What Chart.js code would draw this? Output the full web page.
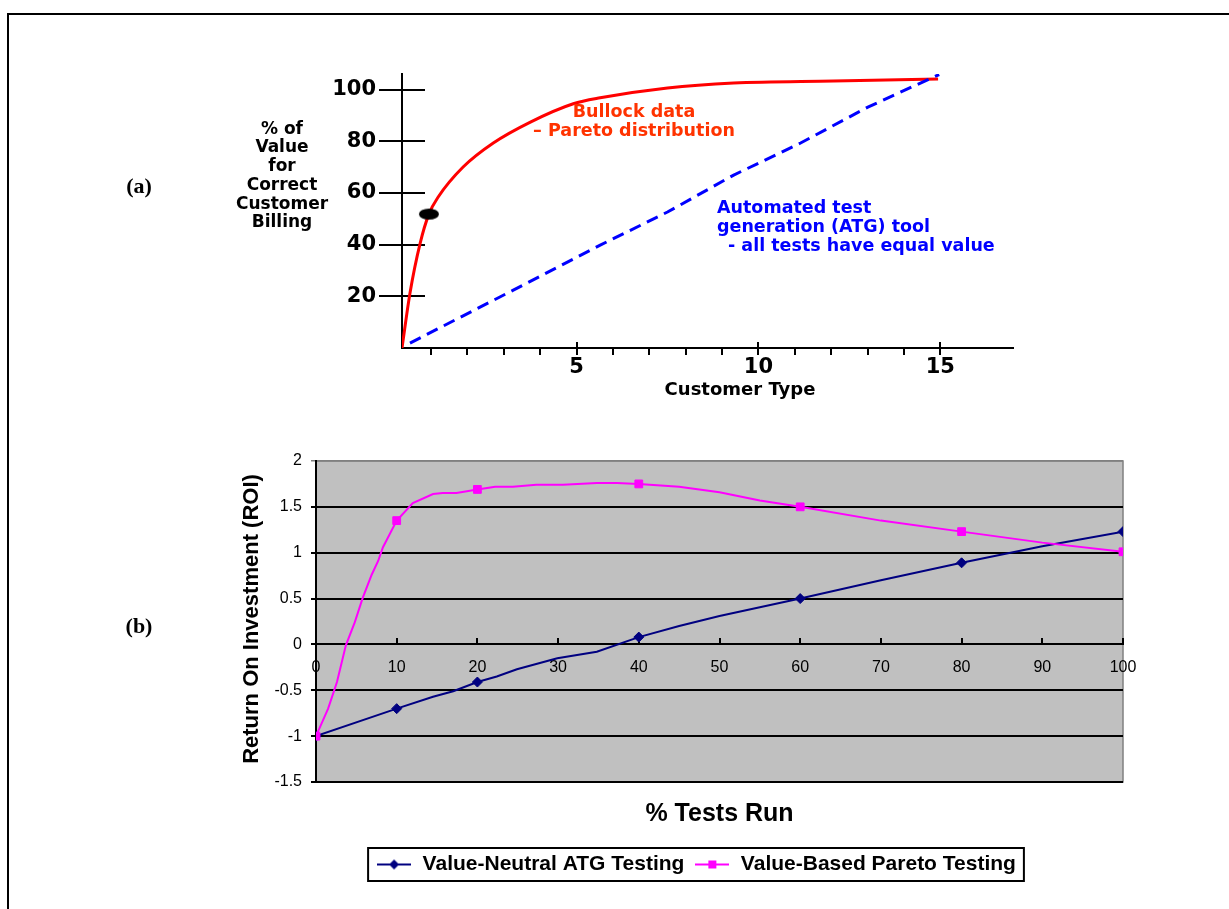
<!DOCTYPE html>
<html>
<head>
<meta charset="utf-8">
<script src="https://cdn.jsdelivr.net/npm/chart.js@4"></script>
<style>
  html, body { margin: 0; padding: 0; background: #fff; }
  #page { position: relative; width: 1229px; height: 909px; overflow: hidden; }
  #frame { position: absolute; left: 7px; top: 13px; right: -5px; bottom: -5px;
           border-top: 2px solid #000; border-left: 2px solid #000; }
  canvas { position: absolute; left: 0; top: 0; }
</style>
</head>
<body>
<div id="page">
  <div id="frame"></div>
  <canvas id="valueChart" width="1229" height="909"></canvas>
  <canvas id="roiChart" width="1229" height="909"></canvas>
</div>
<script>
// (a) % of value vs customer type
const typeTicks = [1, 2, 3, 4, 5, 6, 7, 8, 9, 10, 11, 12, 13, 14, 15];
const typeLabels = [5, 10, 15];
const valueTicks = [20, 40, 60, 80, 100];

const bullockX = [0.2, 0.42, 0.7, 0.94, 1.2, 1.88, 2.71, 3.73, 4.91, 5.65, 7.5, 9.32, 12.07, 14.94];
const bullockY = [0, 21.3, 40.6, 51.8, 58.5, 70, 79.3, 87.4, 94.5, 96.8, 100.6, 102.5, 103.3, 104.1];

const atgToolX = [0.42, 3.26, 5.65, 7.5, 9.32, 11.16, 13.01, 14.97];
const atgToolY = [1.9, 22.4, 39.8, 52.6, 66.9, 79.3, 93.2, 105.8];

const markX = [0.94];
const markY = [51.8];

// (b) ROI vs % tests run
const testsTicks = [0, 10, 20, 30, 40, 50, 60, 70, 80, 90, 100];

const atgPct = [0, 10, 14.5, 17, 20, 22.4, 24.9, 29.9, 34.8, 40, 45, 50, 60, 70, 80, 90, 100];
const atgRoi = [-1, -0.7, -0.57, -0.51, -0.41, -0.35, -0.27, -0.15, -0.08, 0.08, 0.2, 0.31, 0.5, 0.7, 0.89, 1.07, 1.23];
const atgMarks = [0, 10, 20, 40, 60, 80, 100];

const paretoPct = [0, 1.5, 2.6, 3.7, 4.8, 5.8, 6.9, 7.7, 8.3, 10, 12, 14.5, 15.7, 17.4, 20, 22.2, 24.4, 27.3, 30.6, 34.8, 37.3, 40, 45, 50, 55, 60, 70, 80, 90, 100];
const paretoRoi = [-1, -0.7, -0.41, -0.01, 0.24, 0.51, 0.76, 0.91, 1.06, 1.35, 1.54, 1.64, 1.65, 1.65, 1.69, 1.72, 1.72, 1.74, 1.74, 1.76, 1.76, 1.75, 1.72, 1.66, 1.57, 1.5, 1.35, 1.23, 1.11, 1.01];
const paretoMarks = [0, 10, 20, 40, 60, 80, 100];

const pts = (xs, ys) => xs.map((x, i) => ({ x: x, y: ys[i] }));

const heavy = 'DejaVu Sans';
const arial = 'Liberation Sans';

// black oval used as the marker on the Pareto curve
const oval = document.createElement('canvas');
oval.width = 22; oval.height = 13;
(function () {
  const c = oval.getContext('2d');
  c.fillStyle = '#000';
  c.beginPath();
  c.ellipse(11, 6.5, 10, 5.5, 0, 0, Math.PI * 2);
  c.fill();
})();

const notesA = [
  { t: '(a)', x: 139, y: 187, font: 'bold 22px "Liberation Serif"', c: '#000', a: 'center' },
  { t: '(b)', x: 139, y: 627, font: 'bold 22px "Liberation Serif"', c: '#000', a: 'center' },
  { t: '% of', x: 282, y: 130, font: 'bold 17px ' + heavy, c: '#000', a: 'center' },
  { t: 'Value', x: 282, y: 148, font: 'bold 17px ' + heavy, c: '#000', a: 'center' },
  { t: 'for', x: 282, y: 167, font: 'bold 17px ' + heavy, c: '#000', a: 'center' },
  { t: 'Correct', x: 282, y: 186, font: 'bold 17px ' + heavy, c: '#000', a: 'center' },
  { t: 'Customer', x: 282, y: 205, font: 'bold 17px ' + heavy, c: '#000', a: 'center' },
  { t: 'Billing', x: 282, y: 223, font: 'bold 17px ' + heavy, c: '#000', a: 'center' },
  { t: 'Customer Type', x: 740, y: 390, font: 'bold 18px ' + heavy, c: '#000', a: 'center' },
  { t: 'Bullock data', x: 634, y: 112, font: 'bold 17.5px ' + heavy, c: '#ff3300', a: 'center' },
  { t: '\u2013 Pareto distribution', x: 634, y: 131, font: 'bold 17.5px ' + heavy, c: '#ff3300', a: 'center' },
  { t: 'Automated test', x: 717, y: 208, font: 'bold 17.5px ' + heavy, c: '#0000ff', a: 'left' },
  { t: 'generation (ATG) tool', x: 717, y: 227, font: 'bold 17.5px ' + heavy, c: '#0000ff', a: 'left' },
  { t: '- all tests have equal value', x: 728, y: 246, font: 'bold 17.5px ' + heavy, c: '#0000ff', a: 'left' }
];

function drawNotes(ctx, list) {
  ctx.save();
  ctx.textBaseline = 'middle';
  list.forEach(n => {
    ctx.font = n.font;
    ctx.fillStyle = n.c;
    ctx.textAlign = n.a;
    ctx.fillText(n.t, n.x, n.y);
  });
  ctx.restore();
}

const valueAxes = {
  id: 'valueAxes',
  beforeDatasetsDraw(chart) {
    const { ctx, chartArea, scales } = chart;
    ctx.save();
    ctx.strokeStyle = '#000';
    ctx.lineWidth = 2;
    ctx.beginPath();
    valueTicks.forEach(v => {
      const py = Math.round(scales.y.getPixelForValue(v));
      ctx.moveTo(chartArea.left, py);
      ctx.lineTo(chartArea.left + 23, py);
    });
    typeLabels.forEach(v => {
      const px = Math.round(scales.x.getPixelForValue(v));
      ctx.moveTo(px, chartArea.bottom);
      ctx.lineTo(px, chartArea.bottom - 6);
    });
    ctx.stroke();
    ctx.restore();
  },
  afterDraw(chart) {
    drawNotes(chart.ctx, notesA);
  }
};

new Chart(document.getElementById('valueChart'), {
  type: 'scatter',
  data: {
    datasets: [
      {
        label: 'ATG tool',
        data: pts(atgToolX, atgToolY),
        showLine: true,
        borderColor: '#0000ff',
        borderWidth: 3,
        borderDash: [12, 7],
        pointRadius: 0,
        tension: 0
      },
      {
        label: 'Bullock data',
        data: pts(bullockX, bullockY),
        showLine: true,
        borderColor: '#ff0000',
        borderWidth: 3,
        pointRadius: 0,
        cubicInterpolationMode: 'monotone'
      },
      {
        label: 'mark',
        data: pts(markX, markY),
        pointStyle: oval,
        pointRadius: 10,
        order: -1
      }
    ]
  },
  options: {
    responsive: false,
    animation: false,
    events: [],
    layout: { padding: { left: 300, top: 74, right: 216, bottom: 521 } },
    plugins: { legend: { display: false }, tooltip: { enabled: false } },
    scales: {
      x: {
        type: 'linear',
        min: 0.2,
        max: 17,
        afterBuildTicks: s => { s.ticks = typeTicks.map(v => ({ value: v })); },
        afterFit: s => { s.height = 40; },
        grid: { drawOnChartArea: false, color: '#000', lineWidth: 2, tickLength: 7 },
        border: { color: '#000', width: 2 },
        ticks: {
          autoSkip: false,
          maxRotation: 0,
          padding: 0,
          color: '#000',
          font: { family: heavy, size: 21, weight: 'bold' },
          callback: v => typeLabels.includes(v) ? String(v) : ''
        }
      },
      y: {
        min: 0,
        max: 106,
        afterBuildTicks: s => { s.ticks = valueTicks.map(v => ({ value: v })); },
        afterFit: s => { s.width = 102; },
        grid: { drawOnChartArea: false, color: '#000', lineWidth: 2, tickLength: 23 },
        border: { color: '#000', width: 2 },
        ticks: {
          padding: 3,
          color: '#000',
          font: { family: heavy, size: 21, weight: 'bold' }
        }
      }
    }
  },
  plugins: [valueAxes]
});

// legend icons: short line with the series marker
function legendIcon(color, style) {
  const c = document.createElement('canvas');
  c.width = 34; c.height = 12;
  const g = c.getContext('2d');
  g.strokeStyle = color;
  g.fillStyle = color;
  g.lineWidth = 2;
  g.beginPath();
  g.moveTo(0, 6); g.lineTo(34, 6);
  g.stroke();
  g.beginPath();
  if (style === 'rect') {
    g.rect(13, 2, 8, 8);
  } else {
    g.moveTo(17, 1); g.lineTo(22, 6); g.lineTo(17, 11); g.lineTo(12, 6); g.closePath();
  }
  g.fill();
  return c;
}

const roiFrame = {
  id: 'roiFrame',
  beforeDraw(chart) {
    const { ctx, chartArea: a } = chart;
    ctx.save();
    ctx.fillStyle = '#c0c0c0';
    ctx.fillRect(a.left, a.top, a.width, a.height);
    ctx.strokeStyle = '#808080';
    ctx.lineWidth = 1.5;
    ctx.strokeRect(a.left, a.top, a.width, a.height);
    ctx.restore();
  },
  afterDraw(chart) {
    const { ctx } = chart;
    const boxes = chart.legend.legendHitBoxes;
    ctx.save();
    if (boxes && boxes.length) {
      const first = boxes[0], last = boxes[boxes.length - 1];
      ctx.strokeStyle = '#000';
      ctx.lineWidth = 2;
      ctx.strokeRect(first.left - 8, first.top - 6,
        last.left + last.width - first.left + 16, first.height + 12);
    }
    ctx.translate(252, 619);
    ctx.rotate(-Math.PI / 2);
    ctx.font = 'bold 22px ' + arial;
    ctx.fillStyle = '#000';
    ctx.textAlign = 'center';
    ctx.textBaseline = 'middle';
    ctx.fillText('Return On Investment (ROI)', 0, 0);
    ctx.restore();
  }
};

new Chart(document.getElementById('roiChart'), {
  type: 'line',
  data: {
    datasets: [
      {
        label: 'Value-Neutral ATG Testing',
        data: pts(atgPct, atgRoi),
        borderColor: '#000080',
        backgroundColor: '#000080',
        borderWidth: 2,
        tension: 0,
        pointStyle: 'rectRot',
        pointRadius: c => atgMarks.includes(c.raw && c.raw.x) ? 5 : 0,
        pointBorderWidth: 1
      },
      {
        label: 'Value-Based Pareto Testing',
        data: pts(paretoPct, paretoRoi),
        borderColor: '#ff00ff',
        backgroundColor: '#ff00ff',
        borderWidth: 2,
        tension: 0,
        pointStyle: 'rect',
        pointRadius: c => paretoMarks.includes(c.raw && c.raw.x) ? 5.5 : 0,
        pointBorderWidth: 1,
        order: -1
      }
    ]
  },
  options: {
    responsive: false,
    animation: false,
    events: [],
    layout: { padding: { left: 269, right: 106, top: 461, bottom: 24 } },
    plugins: {
      tooltip: { enabled: false },
      title: {
        display: true,
        text: '% Tests Run',
        position: 'bottom',
        fullSize: false,
        weight: 500,
        color: '#000',
        font: { family: arial, size: 25, weight: 'bold' },
        padding: { top: 17, bottom: 15 }
      },
      legend: {
        position: 'bottom',
        weight: 1000,
        labels: {
          usePointStyle: true,
          pointStyleWidth: 36,
          padding: 10,
          color: '#000',
          font: { family: arial, size: 21, weight: 'bold' },
          generateLabels: chart => chart.data.datasets.map((ds, i) => ({
            text: ds.label,
            pointStyle: legendIcon(ds.borderColor, ds.pointStyle),
            fillStyle: ds.borderColor,
            strokeStyle: ds.borderColor,
            lineWidth: 0,
            hidden: false,
            datasetIndex: i
          }))
        }
      }
    },
    scales: {
      x: {
        type: 'linear',
        position: { y: 0 },
        min: 0,
        max: 100,
        afterBuildTicks: s => { s.ticks = testsTicks.map(v => ({ value: v })); },
        grid: { drawOnChartArea: false, color: '#000', lineWidth: 2, tickLength: -7 },
        border: { color: '#000', width: 2 },
        ticks: {
          autoSkip: false,
          maxRotation: 0,
          padding: 21,
          color: '#000',
          font: { family: arial, size: 16 }
        }
      },
      y: {
        min: -1.5,
        max: 2,
        ticks: {
          stepSize: 0.5,
          padding: 9,
          color: '#000',
          font: { family: arial, size: 16 },
          callback: v => String(v)
        },
        afterFit: s => { s.width = 47; },
        grid: {
          color: c => c.tick && c.tick.value === 2 ? '#808080' : '#000',
          lineWidth: c => c.tick && c.tick.value === 2 ? 1.5 : 2,
          tickLength: 5
        },
        border: { color: '#000', width: 2 }
      }
    }
  },
  plugins: [roiFrame]
});
</script>
</body>
</html>
